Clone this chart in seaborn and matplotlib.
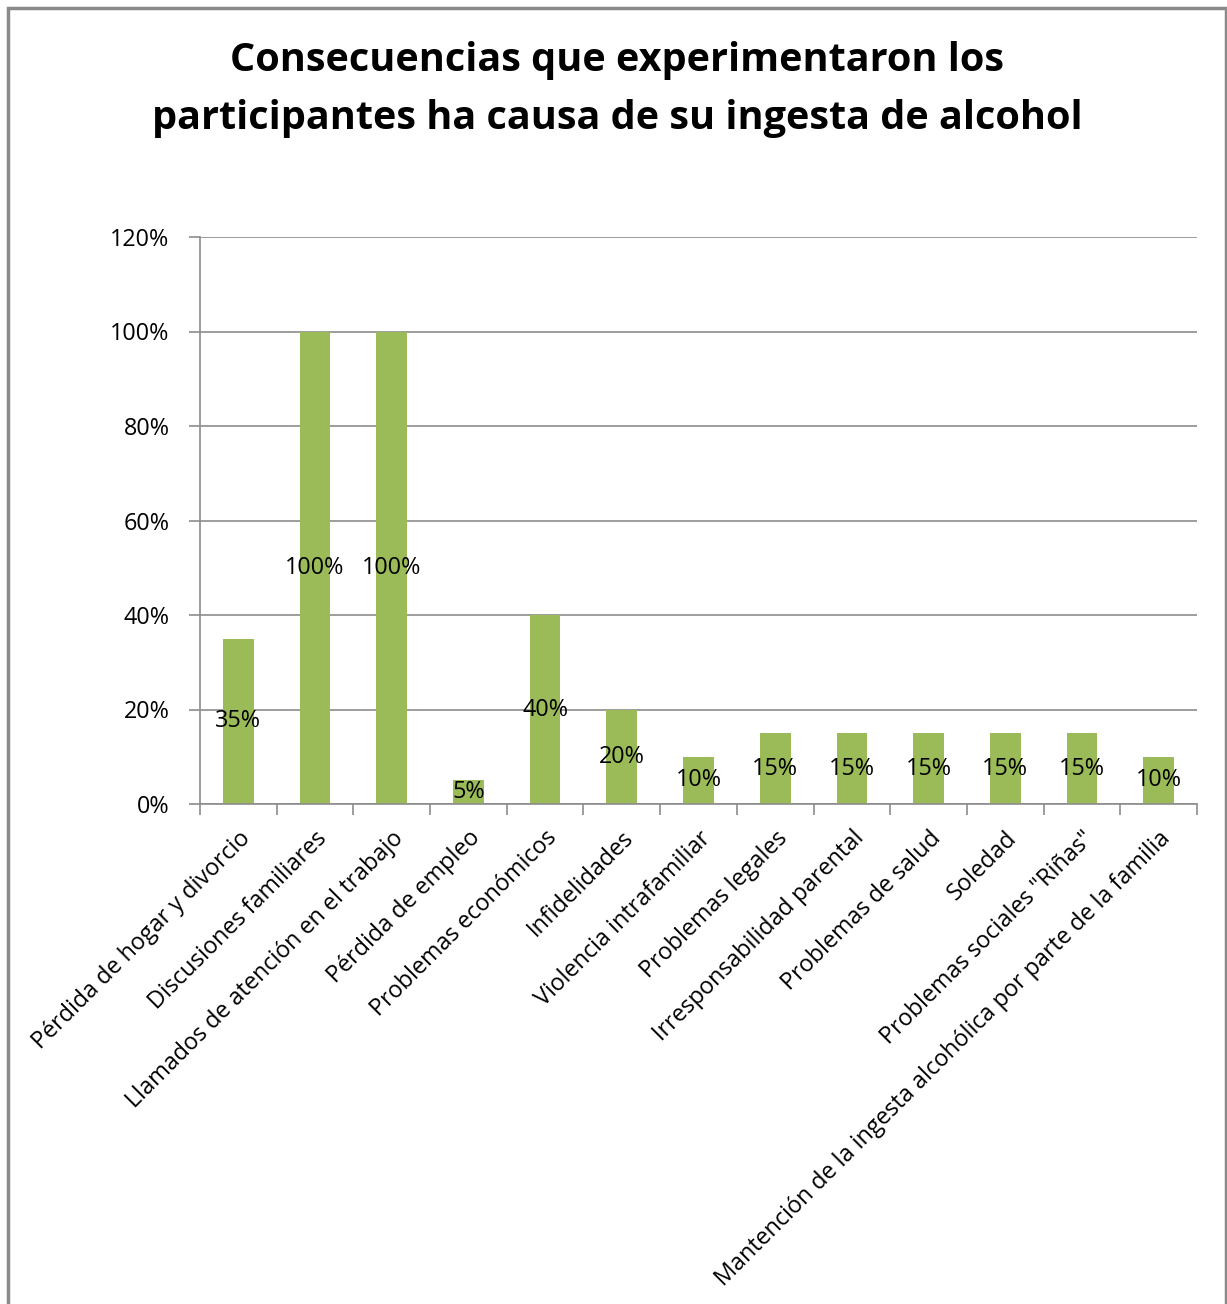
import matplotlib
matplotlib.use("Agg")
import matplotlib.pyplot as plt
import seaborn as sns
import pandas as pd
from matplotlib.patches import Rectangle
from matplotlib.ticker import FuncFormatter, FixedLocator

categories = [
    "Pérdida de hogar y divorcio",
    "Discusiones familiares",
    "Llamados de atención en el trabajo",
    "Pérdida de empleo",
    "Problemas económicos",
    "Infidelidades",
    "Violencia intrafamiliar",
    "Problemas legales",
    "Irresponsabilidad parental",
    "Problemas de salud",
    "Soledad",
    'Problemas sociales "Riñas"',
    "Mantención de la ingesta alcohólica por parte de la familia",
]
percentages = [35, 100, 100, 5, 40, 20, 10, 15, 15, 15, 15, 15, 10]
y_ticks = [0, 20, 40, 60, 80, 100, 120]
title_lines = [
    "Consecuencias que experimentaron los",
    "participantes ha causa de su ingesta de alcohol",
]

df = pd.DataFrame({"categoria": categories, "valor": percentages})

sns.set_theme(style="white")
plt.rcParams["font.family"] = ["Open Sans", "DejaVu Sans"]

W, H = 1227, 1304
fig = plt.figure(figsize=(W / 100, H / 100), dpi=100)
ax = fig.add_axes([200 / W, 1 - 804 / H, (1197 - 200) / W, (804 - 237) / H])

green = "#9BBB59"
sns.barplot(data=df, x="categoria", y="valor", color=green, width=0.4,
            saturation=1, ax=ax, edgecolor="none")

ax.set_ylim(0, 120)
ax.set_xlim(-0.5, len(categories) - 0.5)
ax.yaxis.set_major_locator(FixedLocator(y_ticks))
ax.yaxis.set_major_formatter(FuncFormatter(lambda v, p: f"{v:.0f}%"))
ax.grid(axis="y", color="#8c8c8c", linewidth=1.2)
ax.set_axisbelow(True)
ax.set_xlabel("")
ax.set_ylabel("")

for s in ["top", "right"]:
    ax.spines[s].set_visible(False)
for s in ["left", "bottom"]:
    ax.spines[s].set_color("#8c8c8c")
    ax.spines[s].set_linewidth(1.2)

label_size = 16.8
ax.tick_params(axis="y", which="major", left=True, length=8, width=1.2,
               color="#8c8c8c", labelsize=label_size, pad=14, labelcolor="black")
# x ticks sit between categories
ax.set_xticks(range(len(categories)))
ax.set_xticklabels(categories, rotation=45, ha="right", rotation_mode="anchor",
                   fontsize=label_size, color="black")
ax.tick_params(axis="x", which="major", bottom=False, pad=10)
ax.set_xticks([i - 0.5 for i in range(len(categories) + 1)], minor=True)
ax.tick_params(axis="x", which="minor", bottom=True, length=8, width=1.2,
               color="#8c8c8c")

# value labels at mid-height of each bar
for i, v in enumerate(percentages):
    ax.text(i, v / 2, f"{v}%", ha="center", va="center", fontsize=label_size,
            color="black")

for line, yc in zip(title_lines, [60, 118]):
    fig.text(617 / W, 1 - yc / H, line, ha="center", va="center",
             fontsize=28.5, fontweight="bold", color="black")

# chart frame
fig.patches.append(Rectangle((7.5 / W, -0.05), (1225.5 - 7.5) / W, 1.05 - 7.5 / H,
                             transform=fig.transFigure, fill=False,
                             edgecolor="#8a8a8a", linewidth=2.5))

fig.savefig("out.png", dpi=100)
